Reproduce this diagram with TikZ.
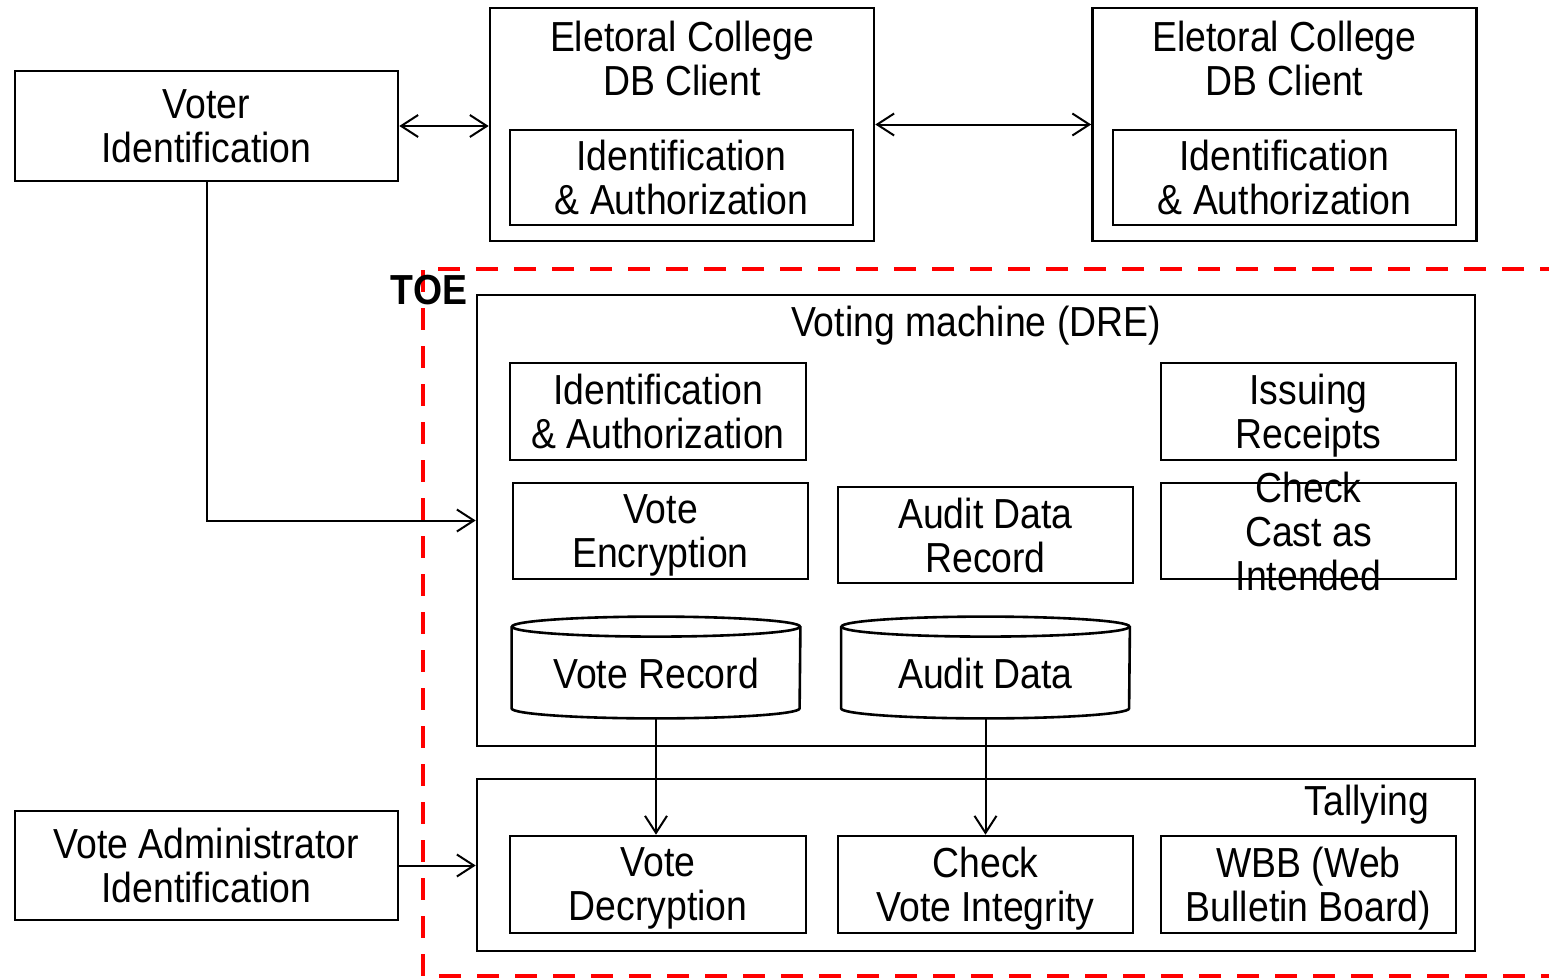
\documentclass[tikz,border=0pt]{standalone}
\usepackage{fontspec}
\setmainfont{Liberation Sans}[FakeStretch=0.89]
\usetikzlibrary{positioning,arrows.meta}

\begin{document}
\begin{tikzpicture}[x=0.5pt,y=-0.5pt,
    every node/.style={font=\fontsize{21pt}{22pt}\selectfont, align=center, text depth=0pt},
    box/.style={draw, line width=1.3pt, inner sep=0pt},
    db/.style={inner sep=0pt, minimum width=144pt, minimum height=40.5pt},
    dbline/.style={line width=1.3pt},
    link/.style={line width=1pt, >={Straight Barb[length=8.5pt,width=11pt]}},
    toe/.style={draw=red, line width=2pt, dash pattern=on 11pt off 8pt}]
  \useasboundingbox (0,0) rectangle (1549,980);
  % outside the TOE
  \node[box, minimum width=191.5pt, minimum height=55pt] (voter) at (206.5,126) {Voter\\Identification};
  \node[box, minimum width=192pt, minimum height=116.5pt] (ec1) at (682,124.5) {};
  \node (ec1title) at (682,58) {Eletoral College\\DB Client};
  \node[box, minimum width=171.5pt, minimum height=47.5pt] (ec1auth) at (681.5,177.5) {Identification\\\& Authorization};
  \node[box, minimum width=192pt, minimum height=116.5pt] (ec2) at (1284.5,124.5) {};
  \node (ec2title) at (1284.5,58) {Eletoral College\\DB Client};
  \node[box, minimum width=171.5pt, minimum height=47.5pt] (ec2auth) at (1284.5,177.5) {Identification\\\& Authorization};
  \node[box, minimum width=191.5pt, minimum height=54.5pt] (admin) at (206.5,865.5) {Vote Administrator\\Identification};
  % voting machine
  \node[box, minimum width=499pt, minimum height=225.5pt] (dre) at (976,520.5) {};
  \node (dretitle) at (976,321) {Voting machine (DRE)};
  \node[box, minimum width=148pt, minimum height=48.5pt] (auth) at (658,411.5) {Identification\\\& Authorization};
  \node[box, minimum width=147.5pt, minimum height=48.5pt] (receipt) at (1308.5,411.5) {Issuing\\Receipts};
  \node[box, minimum width=147.5pt, minimum height=48pt] (enc) at (660.5,531) {Vote\\Encryption};
  \node[box, minimum width=147.5pt, minimum height=48pt] (auditrec) at (985.5,535) {Audit Data\\Record};
  \node[box, minimum width=147.5pt, minimum height=48pt] (cast) at (1308.5,531) {};
  \node (casttext) at (cast.center) {Check\\Cast as\\Intended};
  % databases
  \node[db] (voterec) at (656,667.5) {};
  \node (voterectext) at (656,673) {Vote Record};
  \draw[dbline] (voterec.north west) -- (voterec.south west)
    arc[start angle=180, end angle=360, x radius=72pt, y radius=5pt] -- (voterec.north east);
  \draw[dbline] (voterec.north) ellipse[x radius=72pt, y radius=5pt];
  \coordinate (voterecbottom) at ([yshift=-5pt]voterec.south);
  \node[db] (auditdata) at (985.5,667.5) {};
  \node (auditdatatext) at (985.5,673) {Audit Data};
  \draw[dbline] (auditdata.north west) -- (auditdata.south west)
    arc[start angle=180, end angle=360, x radius=72pt, y radius=5pt] -- (auditdata.north east);
  \draw[dbline] (auditdata.north) ellipse[x radius=72pt, y radius=5pt];
  \coordinate (auditdatabottom) at ([yshift=-5pt]auditdata.south);
  % tallying
  \node[box, minimum width=499pt, minimum height=86pt] (tally) at (976,865) {};
  \node (tallytitle) at (1367,800) {Tallying};
  \node[box, minimum width=148pt, minimum height=48.5pt] (dec) at (658,884.5) {Vote\\Decryption};
  \node[box, minimum width=147.5pt, minimum height=48.5pt] (integrity) at (985.5,884.5) {Check\\Vote Integrity};
  \node[box, minimum width=147.5pt, minimum height=48.5pt] (wbb) at (1308.5,884.5) {WBB (Web\\Bulletin Board)};
  % connectors
  \draw[link, <->] (voter.east) -- (voter.east -| ec1.west);
  \draw[link, <->] (ec1.east) -- (ec2.west);
  \draw[link, ->] (voter.south) |- (dre.west);
  \draw[link, ->] (admin.east) -- (admin.east -| tally.west);
  \draw[link, ->] (voterecbottom) -- (voterecbottom |- dec.north);
  \draw[link, ->] (auditdatabottom) -- (auditdatabottom |- integrity.north);
  % target of evaluation
  \draw[toe] (1600,269) -- (423,269) -- (423,976) -- (1600,976);
  \node[font=\fontsize{21pt}{22pt}\selectfont\bfseries] (toe) at (429,290) {TOE};
\end{tikzpicture}
\end{document}
